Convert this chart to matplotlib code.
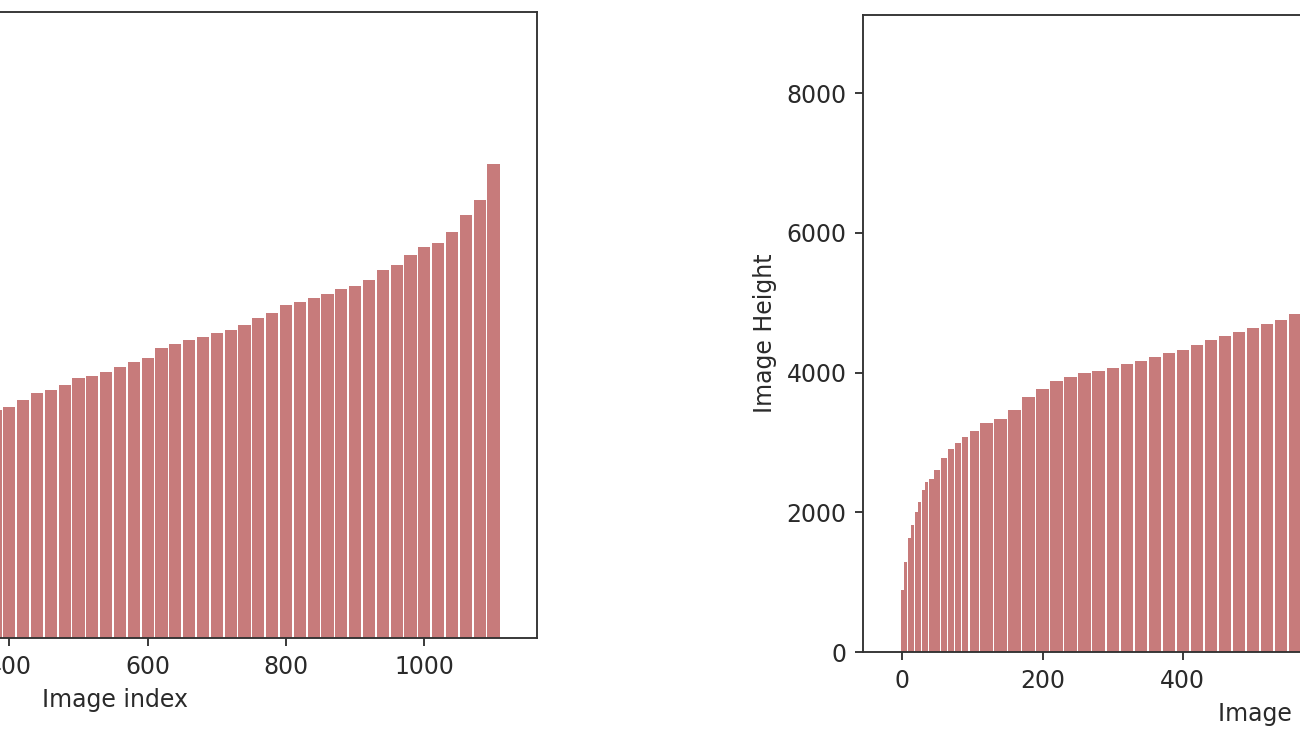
import numpy as np
import matplotlib
matplotlib.use("Agg")
import matplotlib.pyplot as plt
from matplotlib.ticker import MultipleLocator

# sorted image sizes (every ~20th image)
width_idx = [380, 400, 420, 440, 460, 480, 500, 520, 540, 560, 580, 600,
             620, 640, 660, 680, 700, 720, 740, 760, 780, 800, 820, 840,
             860, 880, 900, 920, 940, 960, 980, 1000, 1020, 1040, 1060,
             1080, 1100]
width_vals = [3320, 3365, 3468, 3570, 3610, 3686, 3788, 3815, 3876, 3950,
              4020, 4080, 4225, 4285, 4340, 4385, 4445, 4490, 4560, 4660,
              4735, 4850, 4895, 4955, 5010, 5085, 5130, 5215, 5360, 5435,
              5580, 5695, 5755, 5915, 6165, 6380, 6900]

height_idx = [0, 5, 10, 15, 20, 25, 30, 35, 40, 50, 60, 70, 80, 90, 100,
              120, 140, 160, 180, 200, 220, 240, 260, 280, 300, 320, 340,
              360, 380, 400, 420, 440, 460, 480, 500, 520, 540, 560, 580]
height_vals = [888, 1293, 1632, 1820, 2000, 2152, 2319, 2440, 2480, 2600,
               2780, 2900, 2990, 3080, 3165, 3274, 3330, 3470, 3650, 3760,
               3880, 3940, 3990, 4020, 4060, 4120, 4170, 4230, 4280, 4330,
               4390, 4460, 4520, 4580, 4640, 4700, 4760, 4840, 4900]

W, H, DPI = 1300, 731, 170
fig = plt.figure(figsize=(W / DPI, H / DPI), dpi=DPI)

XLIM = (-56, 1163)
YLIM = (0, 9120)
TXT = "#2a2a2a"


def px_axes(left, top, right, bottom):
    """Axes placed with pixel coords (origin top-left)."""
    return fig.add_axes([left / W, 1 - bottom / H, (right - left) / W,
                         (bottom - top) / H])


def draw(ax, idx, vals, ylabel):
    idx = np.asarray(idx, dtype=float)
    d = np.diff(idx)
    # each bar fills the span between the midpoints to its neighbours
    lo = idx - np.append(d[0], d) / 2
    hi = idx + np.append(d, d[-1]) / 2
    w = 0.88 * (hi - lo)
    ax.bar(lo + 0.06 * (hi - lo), vals, width=w, align="edge",
           color="brown", alpha=0.62, linewidth=0)
    ax.set_xlim(*XLIM)
    ax.set_ylim(*YLIM)
    ax.xaxis.set_major_locator(MultipleLocator(200))
    ax.yaxis.set_major_locator(MultipleLocator(2000))
    ax.set_xlabel("Image index", color=TXT)
    ax.set_ylabel(ylabel, color=TXT)
    ax.tick_params(labelcolor=TXT, color="#333333")
    for s in ax.spines.values():
        s.set_color("#333333")


ax1 = px_axes(-306, 12, 537, 638)
draw(ax1, width_idx, width_vals, "Image Width")

ax2 = px_axes(863, 15, 1718, 652)
draw(ax2, height_idx, height_vals, "Image Height")

fig.savefig("out.png", dpi=DPI)
